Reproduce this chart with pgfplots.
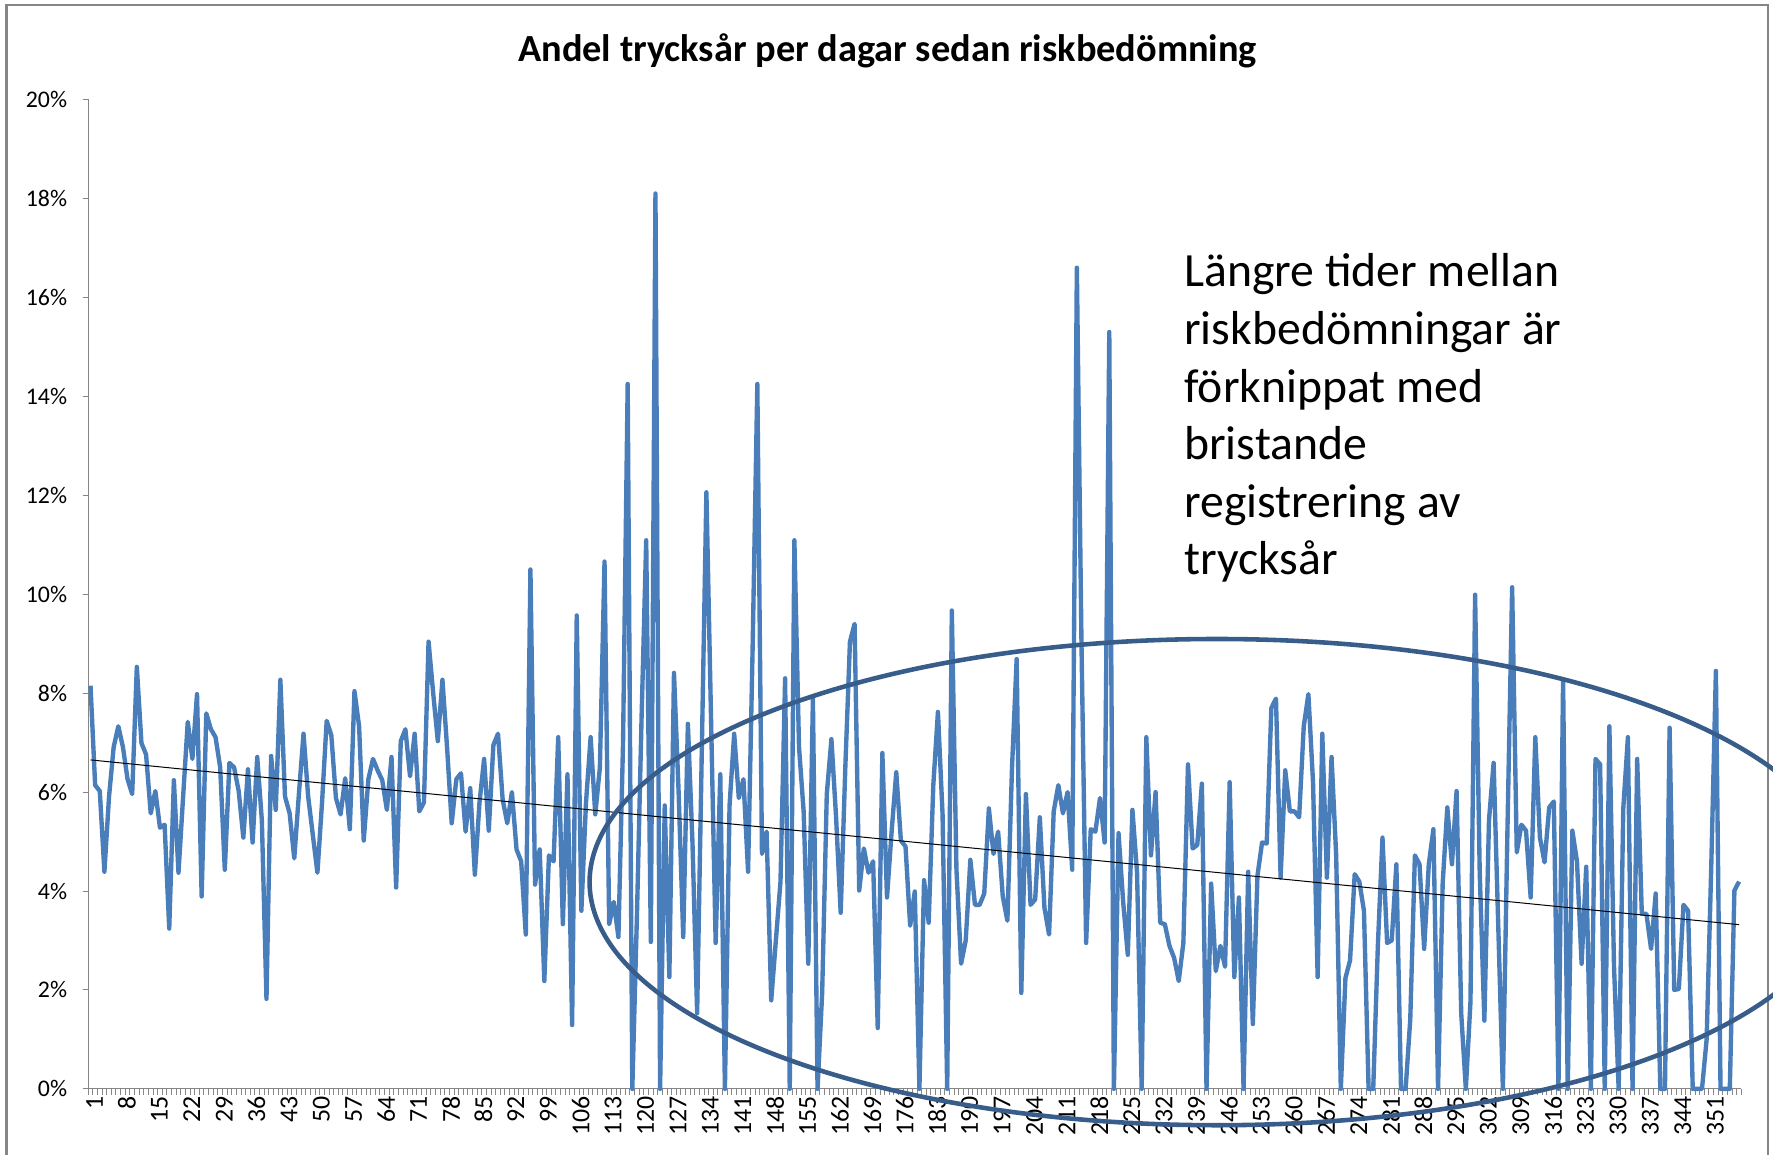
\documentclass[border=0pt]{standalone}
\usepackage{fontspec}
\setmainfont{Carlito}
\usepackage{pgfplots}
\usepackage{pgfplotstable}
\pgfplotsset{compat=1.18}

\definecolor{serieblue}{HTML}{4A7EBB}
\definecolor{ringblue}{HTML}{385D8A}
\definecolor{axisgray}{HTML}{868686}

% andel trycksår (procent) per dag sedan riskbedömning
\pgfplotstableread[row sep=\\]{
x y\\
1 8.15\\ 2 6.14\\ 3 6.02\\ 4 4.39\\ 5 5.91\\ 6 6.91\\ 7 7.33\\ 8 6.91\\ 9 6.26\\ 10 5.96\\
11 8.53\\ 12 6.99\\ 13 6.76\\ 14 5.57\\ 15 6.02\\ 16 5.28\\ 17 5.34\\ 18 3.24\\ 19 6.24\\ 20 4.37\\
21 5.91\\ 22 7.42\\ 23 6.67\\ 24 7.98\\ 25 3.89\\ 26 7.59\\ 27 7.27\\ 28 7.11\\ 29 6.50\\ 30 4.43\\
31 6.59\\ 32 6.50\\ 33 6.02\\ 34 5.08\\ 35 6.46\\ 36 4.98\\ 37 6.71\\ 38 5.43\\ 39 1.82\\ 40 6.73\\
41 5.64\\ 42 8.27\\ 43 5.91\\ 44 5.57\\ 45 4.66\\ 46 5.96\\ 47 7.18\\ 48 5.91\\ 49 5.14\\ 50 4.37\\
51 5.79\\ 52 7.44\\ 53 7.15\\ 54 5.88\\ 55 5.55\\ 56 6.28\\ 57 5.25\\ 58 8.04\\ 59 7.33\\ 60 5.02\\
61 6.26\\ 62 6.67\\ 63 6.44\\ 64 6.24\\ 65 5.64\\ 66 6.71\\ 67 4.07\\ 68 7.03\\ 69 7.27\\ 70 6.32\\
71 7.18\\ 72 5.61\\ 73 5.79\\ 74 9.04\\ 75 8.00\\ 76 7.03\\ 77 8.27\\ 78 6.90\\ 79 5.37\\ 80 6.26\\
81 6.38\\ 82 5.20\\ 83 6.08\\ 84 4.33\\ 85 5.79\\ 86 6.67\\ 87 5.22\\ 88 6.95\\ 89 7.18\\ 90 5.85\\
91 5.37\\ 92 6.00\\ 93 4.84\\ 94 4.60\\ 95 3.12\\ 96 10.50\\ 97 4.13\\ 98 4.84\\ 99 2.18\\ 100 4.72\\
101 4.60\\ 102 7.11\\ 103 3.33\\ 104 6.36\\ 105 1.29\\ 106 9.57\\ 107 3.60\\ 108 5.79\\ 109 7.11\\ 110 5.55\\
111 6.50\\ 112 10.66\\ 113 3.33\\ 114 3.78\\ 115 3.07\\ 116 7.00\\ 117 14.25\\ 118 0\\ 119 3.50\\ 120 7.50\\
121 11.09\\ 122 2.97\\ 123 18.10\\ 124 0\\ 125 5.73\\ 126 2.26\\ 127 8.41\\ 128 6.00\\ 129 3.07\\ 130 7.38\\
131 4.96\\ 132 1.53\\ 133 6.80\\ 134 12.06\\ 135 7.50\\ 136 2.95\\ 137 6.36\\ 138 0\\ 139 5.73\\ 140 7.18\\
141 5.88\\ 142 6.26\\ 143 4.39\\ 144 9.00\\ 145 14.25\\ 146 4.75\\ 147 5.20\\ 148 1.79\\ 149 3.00\\ 150 4.19\\
151 8.30\\ 152 0\\ 153 11.09\\ 154 6.91\\ 155 5.61\\ 156 2.53\\ 157 7.89\\ 158 0\\ 159 1.94\\ 160 5.96\\
161 7.07\\ 162 5.50\\ 163 3.56\\ 164 6.50\\ 165 9.04\\ 166 9.40\\ 167 4.01\\ 168 4.86\\ 169 4.37\\ 170 4.60\\
171 1.23\\ 172 6.79\\ 173 3.87\\ 174 5.20\\ 175 6.40\\ 176 5.02\\ 177 4.90\\ 178 3.30\\ 179 3.99\\ 180 0\\
181 4.22\\ 182 3.36\\ 183 6.14\\ 184 7.62\\ 185 5.55\\ 186 0\\ 187 9.67\\ 188 4.43\\ 189 2.53\\ 190 3.00\\
191 4.63\\ 192 3.72\\ 193 3.72\\ 194 3.95\\ 195 5.67\\ 196 4.75\\ 197 5.20\\ 198 3.89\\ 199 3.40\\ 200 6.50\\
201 8.69\\ 202 1.94\\ 203 5.96\\ 204 3.72\\ 205 3.83\\ 206 5.49\\ 207 3.66\\ 208 3.12\\ 209 5.61\\ 210 6.14\\
211 5.57\\ 212 6.00\\ 213 4.43\\ 214 16.60\\ 215 9.00\\ 216 2.95\\ 217 5.25\\ 218 5.20\\ 219 5.88\\ 220 4.98\\
221 15.30\\ 222 0\\ 223 5.17\\ 224 3.78\\ 225 2.71\\ 226 5.64\\ 227 4.37\\ 228 0\\ 229 7.11\\ 230 4.72\\
231 6.00\\ 232 3.36\\ 233 3.33\\ 234 2.89\\ 235 2.65\\ 236 2.18\\ 237 2.95\\ 238 6.56\\ 239 4.86\\ 240 4.93\\
241 6.17\\ 242 0\\ 243 4.15\\ 244 2.38\\ 245 2.89\\ 246 2.47\\ 247 6.20\\ 248 2.26\\ 249 3.87\\ 250 0\\
251 4.39\\ 252 1.31\\ 253 4.31\\ 254 4.98\\ 255 4.96\\ 256 7.70\\ 257 7.89\\ 258 4.27\\ 259 6.44\\ 260 5.61\\
261 5.61\\ 262 5.49\\ 263 7.33\\ 264 7.98\\ 265 6.20\\ 266 2.26\\ 267 7.18\\ 268 4.27\\ 269 6.71\\ 270 4.72\\
271 0\\ 272 2.24\\ 273 2.60\\ 274 4.34\\ 275 4.19\\ 276 3.60\\ 277 0\\ 278 0\\ 279 2.89\\ 280 5.08\\
281 2.95\\ 282 3.00\\ 283 4.54\\ 284 0\\ 285 0\\ 286 1.41\\ 287 4.72\\ 288 4.54\\ 289 2.83\\ 290 4.54\\
291 5.25\\ 292 0\\ 293 4.15\\ 294 5.69\\ 295 4.54\\ 296 6.02\\ 297 1.53\\ 298 0\\ 299 1.76\\ 300 9.99\\
301 4.37\\ 302 1.38\\ 303 5.43\\ 304 6.59\\ 305 3.30\\ 306 0\\ 307 5.31\\ 308 10.14\\ 309 4.78\\ 310 5.34\\
311 5.22\\ 312 3.87\\ 313 7.11\\ 314 5.08\\ 315 4.58\\ 316 5.69\\ 317 5.81\\ 318 0\\ 319 8.27\\ 320 0\\
321 5.22\\ 322 4.60\\ 323 2.53\\ 324 4.49\\ 325 0\\ 326 6.67\\ 327 6.56\\ 328 0\\ 329 7.33\\ 330 2.47\\
331 0\\ 332 5.67\\ 333 7.11\\ 334 0\\ 335 6.67\\ 336 3.54\\ 337 3.54\\ 338 2.83\\ 339 3.95\\ 340 0\\
341 0\\ 342 7.30\\ 343 2.00\\ 344 2.02\\ 345 3.72\\ 346 3.60\\ 347 0\\ 348 0\\ 349 0\\ 350 1.00\\
351 4.50\\ 352 8.45\\ 353 0\\ 354 0\\ 355 0\\ 356 4.01\\ 357 4.19\\
}\dagdata

\begin{document}
\begin{tikzpicture}
\clip (0,0) rectangle (31.36,20.42);
% ram runt diagramytan
\draw[axisgray, line width=1.3pt] (0.12,-1) rectangle (31.27,20.33);
\node[anchor=base, font=\bfseries\fontsize{19.3}{23}\selectfont] at (15.70,19.34)
  {Andel trycksår per dagar sedan riskbedömning};
\begin{axis}[
    at={(1.56cm,1.16cm)}, anchor=south west,
    scale only axis, width=29.24cm, height=17.5cm,
    xmin=0.5, xmax=357.5, ymin=0, ymax=20,
    axis lines=left,
    axis line style={-, axisgray, line width=0.6pt},
    tick align=outside,
    major tick length=0pt, minor tick length=0.1cm,
    minor tick style={axisgray, line width=0.5pt},
    minor xtick={0.5,1.5,...,357.5},
    minor ytick={0,2,...,20},
    xtick={1,8,...,351},
    xticklabels={1,8,15,22,29,36,43,50,57,64,71,78,85,92,99,106,113,120,127,134,141,148,155,162,169,176,183,190,197,204,211,218,225,232,239,246,253,260,267,274,281,288,295,302,309,316,323,330,337,344,351},
    ytick={0,2,...,20},
    yticklabels={0\%,2\%,4\%,6\%,8\%,10\%,12\%,14\%,16\%,18\%,20\%},
    yticklabel style={font=\fontsize{12}{14}\selectfont, xshift=-0.25cm},
    xticklabel style={font=\fontsize{13}{15}\selectfont, rotate=90, anchor=east, yshift=-0.07cm},
    clip=false,
]
    \addplot[serieblue, line width=2.2pt, line join=round] table[x=x, y=y] {\dagdata};
    % linjär trendlinje
    \addplot[black, line width=0.5pt] coordinates {(1,6.65) (357,3.32)};
    % ring runt senare delen
    \draw[ringblue, line width=2.3pt] (axis cs:244.3,4.18) ellipse [x radius=11.1cm, y radius=4.3cm];
\end{axis}
\node[anchor=north west, align=left, inner sep=0pt,
      font=\fontsize{24}{29}\selectfont] at (20.94,15.94)
  {Längre tider mellan\\riskbedömningar är\\förknippat med\\bristande\\registrering av\\trycksår};
\end{tikzpicture}
\end{document}
